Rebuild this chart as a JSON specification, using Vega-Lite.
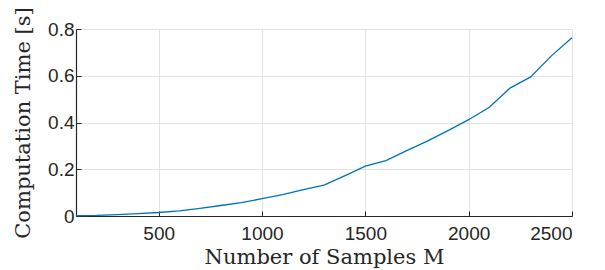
{
  "$schema": "https://vega.github.io/schema/vega-lite/v6.json",
  "width": 496,
  "height": 187,
  "autosize": {"type": "none"},
  "padding": {"left": 76, "top": 29, "right": 33, "bottom": 54},
  "background": "white",
  "config": {"view": {"stroke": null}},
  "data": {
    "values": [
      {"M": 100, "t": 0.002},
      {"M": 200, "t": 0.003},
      {"M": 300, "t": 0.006},
      {"M": 400, "t": 0.010},
      {"M": 500, "t": 0.015},
      {"M": 600, "t": 0.022},
      {"M": 700, "t": 0.033},
      {"M": 800, "t": 0.045},
      {"M": 900, "t": 0.057},
      {"M": 1000, "t": 0.074},
      {"M": 1100, "t": 0.091},
      {"M": 1200, "t": 0.113},
      {"M": 1300, "t": 0.132},
      {"M": 1400, "t": 0.172},
      {"M": 1500, "t": 0.213},
      {"M": 1600, "t": 0.237},
      {"M": 1700, "t": 0.280},
      {"M": 1800, "t": 0.320},
      {"M": 1900, "t": 0.365},
      {"M": 2000, "t": 0.412},
      {"M": 2100, "t": 0.465},
      {"M": 2200, "t": 0.547},
      {"M": 2300, "t": 0.595},
      {"M": 2400, "t": 0.685},
      {"M": 2500, "t": 0.763}
    ]
  },
  "mark": {"type": "line", "color": "#0072BD", "strokeWidth": 1.3},
  "encoding": {
    "x": {
      "field": "M",
      "type": "quantitative",
      "scale": {"domain": [100, 2500], "nice": false, "zero": false},
      "axis": {
        "values": [500, 1000, 1500, 2000, 2500],
        "format": "d",
        "title": "Number of Samples M",
        "titleFont": "DejaVu Serif",
        "titleFontSize": 21,
        "titleFontWeight": "normal",
        "titleColor": "#262626",
        "titlePadding": 3,
        "labelFont": "Liberation Sans",
        "labelFontSize": 19,
        "labelColor": "#262626",
        "labelPadding": 13,
        "domainColor": "#262626",
        "domainWidth": 1.2,
        "tickColor": "#262626",
        "tickSize": -5,
        "gridColor": "#e3e3e3",
        "gridWidth": 1
      }
    },
    "y": {
      "field": "t",
      "type": "quantitative",
      "scale": {"domain": [0, 0.8], "nice": false},
      "axis": {
        "values": [0, 0.2, 0.4, 0.6, 0.8],
        "format": ".1~f",
        "title": "Computation Time [s]",
        "titleFont": "DejaVu Serif",
        "titleFontSize": 21,
        "titleFontWeight": "normal",
        "titleColor": "#262626",
        "titlePadding": 14,
        "labelFont": "Liberation Sans",
        "labelFontSize": 19,
        "labelColor": "#262626",
        "labelPadding": 7,
        "domainColor": "#262626",
        "domainWidth": 1.2,
        "tickColor": "#262626",
        "tickSize": -5,
        "gridColor": "#e3e3e3",
        "gridWidth": 1
      }
    }
  }
}
